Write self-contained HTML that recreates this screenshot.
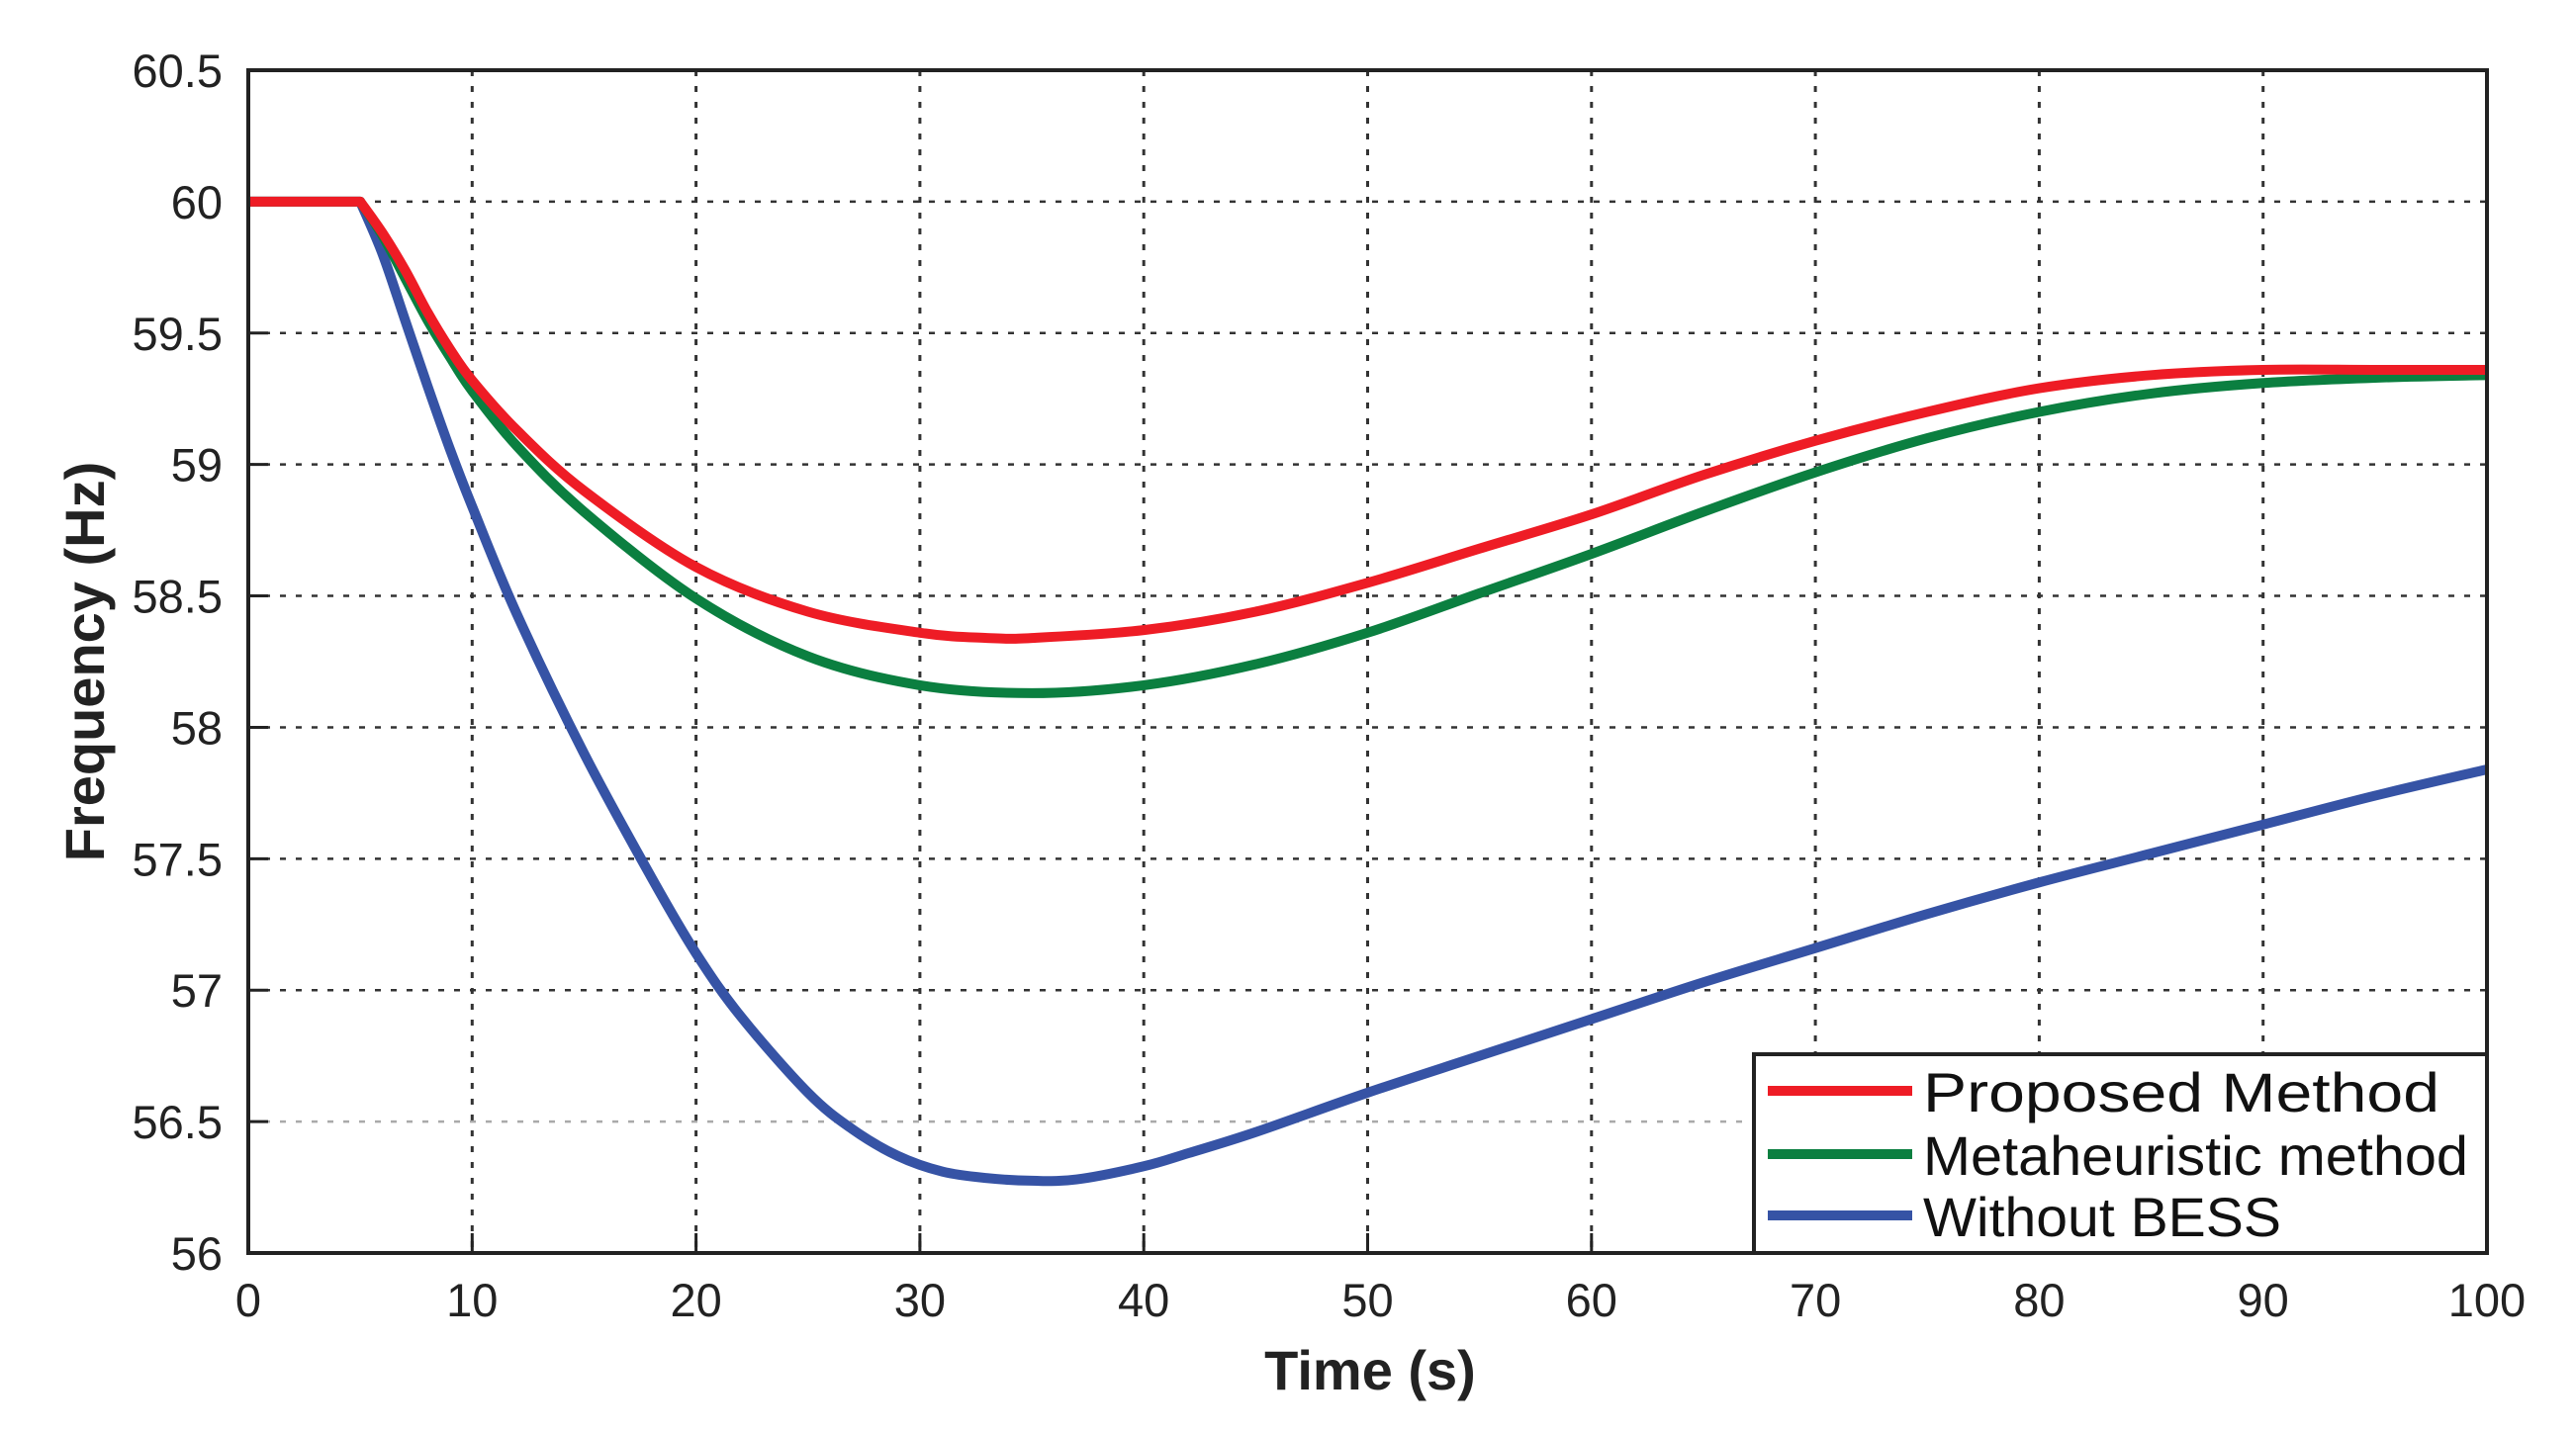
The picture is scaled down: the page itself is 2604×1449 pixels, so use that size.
<!DOCTYPE html>
<html><head><meta charset="utf-8"><style>
html,body{margin:0;padding:0;background:#fff;}
svg{display:block;font-family:"Liberation Sans",Arial,sans-serif;}
</style></head><body>
<svg id="chart" width="2604" height="1449" viewBox="0 0 2604 1449" xmlns="http://www.w3.org/2000/svg">
<rect width="2604" height="1449" fill="#fff"/>
<g id="grid"></g>
<g id="ticks"></g>
<g id="series"></g>
<rect x="251" y="71" width="2263" height="1196" fill="none" stroke="#222" stroke-width="4"/>
<text x="1385" y="1405" font-size="56" font-weight="bold" text-anchor="middle" fill="#222">Time (s)</text>
<text transform="translate(105,669) rotate(-90)" font-size="56" font-weight="bold" text-anchor="middle" fill="#222">Frequency (Hz)</text>
<g>
<rect x="1773" y="1066" width="741" height="201" fill="#fff" stroke="#222" stroke-width="4"/>
<line x1="1787" y1="1103" x2="1933" y2="1103" stroke="#ee1c25" stroke-width="10"/>
<text x="1944" y="1124" font-size="56" fill="#111" textLength="522" lengthAdjust="spacingAndGlyphs">Proposed Method</text>
<line x1="1787" y1="1167" x2="1933" y2="1167" stroke="#0b7f40" stroke-width="10"/>
<text x="1944" y="1188" font-size="56" fill="#111" textLength="551" lengthAdjust="spacingAndGlyphs">Metaheuristic method</text>
<line x1="1787" y1="1229" x2="1933" y2="1229" stroke="#3653a5" stroke-width="10"/>
<text x="1944" y="1250" font-size="56" fill="#111" textLength="362" lengthAdjust="spacingAndGlyphs">Without BESS</text>
</g>
</svg>
<script>
const xTicks = [0,10,20,30,40,50,60,70,80,90,100];
const yTicks = [56,56.5,57,57.5,58,58.5,59,59.5,60,60.5];
const tRed = [0,5,6,7,8,9,10,12,15,20,25,30,33,35,40,45,50,55,60,65,70,75,80,85,90,95,100];
const fRed = [60,60,59.88,59.74,59.58,59.44,59.32,59.13,58.9,58.61,58.44,58.36,58.34,58.34,58.37,58.44,58.55,58.68,58.81,58.96,59.09,59.2,59.29,59.34,59.36,59.36,59.36];
const tGreen = [0,5,6,7,8,9,10,12,15,20,25,30,35,40,45,50,55,60,65,70,75,80,85,90,95,100];
const fGreen = [60,60,59.87,59.71,59.55,59.41,59.28,59.07,58.82,58.49,58.27,58.16,58.13,58.16,58.24,58.36,58.51,58.66,58.82,58.97,59.1,59.2,59.27,59.31,59.33,59.34];
const tBlue = [0,5,6,7,8,9,10,12,15,18,20,22,25,27,29,31,33,35,37,40,42,45,50,55,60,65,70,75,80,85,90,95,100];
const fBlue = [60,60,59.8,59.55,59.3,59.06,58.84,58.43,57.9,57.43,57.14,56.9,56.61,56.47,56.37,56.31,56.285,56.275,56.28,56.33,56.38,56.46,56.61,56.75,56.89,57.03,57.16,57.29,57.41,57.52,57.63,57.74,57.84];

const NS='http://www.w3.org/2000/svg';
const X0=251,X1=2514,Y0=1267,Y1=71;
function xs(t){return X0+(t-0)/100*(X1-X0);}
function ys(v){return Y0-(v-56)/4.5*(Y0-Y1);}
function mk(tag,attrs,parent){const e=document.createElementNS(NS,tag);for(const k in attrs)e.setAttribute(k,attrs[k]);parent.appendChild(e);return e;}
const grid=document.getElementById('grid'),ticks=document.getElementById('ticks'),series=document.getElementById('series');
xTicks.forEach(t=>{
  const x=xs(t);
  if(t>0&&t<100){
    const g=mk('line',{x1:x,y1:Y1,x2:x,y2:Y0,stroke:'#333','stroke-width':3,'stroke-dasharray':'6 10'},grid);
    
    
    const tk=mk('line',{x1:x,y1:Y0,x2:x,y2:Y0-20,stroke:'#222','stroke-width':3},grid);
    
    
  }
  const l=mk('text',{x:x,y:1331,'font-size':47,'text-anchor':'middle',fill:'#222'},ticks);
  l.textContent=t;
  
  
});
yTicks.forEach(v=>{
  const y=ys(v);
  if(v>56&&v<60.5){
    const g=mk('line',{x1:X0,y1:y,x2:X1,y2:y,stroke:v===56.5?'#aaa':'#333','stroke-width':2.5,'stroke-dasharray':'6 10'},grid);
    
    
    const tk=mk('line',{x1:X0,y1:y,x2:X0+20,y2:y,stroke:'#222','stroke-width':3},grid);
    
    
  }
  const l=mk('text',{x:225,y:y+17,'font-size':47,'text-anchor':'end',fill:'#222'},ticks);
  l.textContent=String(v);
  
  
});
function path(ts,fs){
  const p=ts.map((t,i)=>[xs(t),ys(fs[i])]);
  // flat part is linear up to the knee (index 1), spline afterwards
  let d='M'+p[0][0]+','+p[0][1]+' L'+p[1][0]+','+p[1][1];
  for(let i=1;i<p.length-1;i++){
    const p0=p[Math.max(1,i-1)],p1=p[i],p2=p[i+1],p3=p[Math.min(p.length-1,i+2)];
    const c1=[p1[0]+(p2[0]-p0[0])/6,p1[1]+(p2[1]-p0[1])/6];
    const c2=[p2[0]-(p3[0]-p1[0])/6,p2[1]-(p3[1]-p1[1])/6];
    d+=' C'+c1+' '+c2+' '+p2;
  }
  return d;
}
const b=mk('path',{d:path(tBlue,fBlue),fill:'none',stroke:'#3653a5','stroke-width':10,'stroke-linejoin':'round'},series);


const g=mk('path',{d:path(tGreen,fGreen),fill:'none',stroke:'#0b7f40','stroke-width':10,'stroke-linejoin':'round'},series);


const r=mk('path',{d:path(tRed,fRed),fill:'none',stroke:'#ee1c25','stroke-width':10,'stroke-linejoin':'round'},series);


</script>
</body></html>
